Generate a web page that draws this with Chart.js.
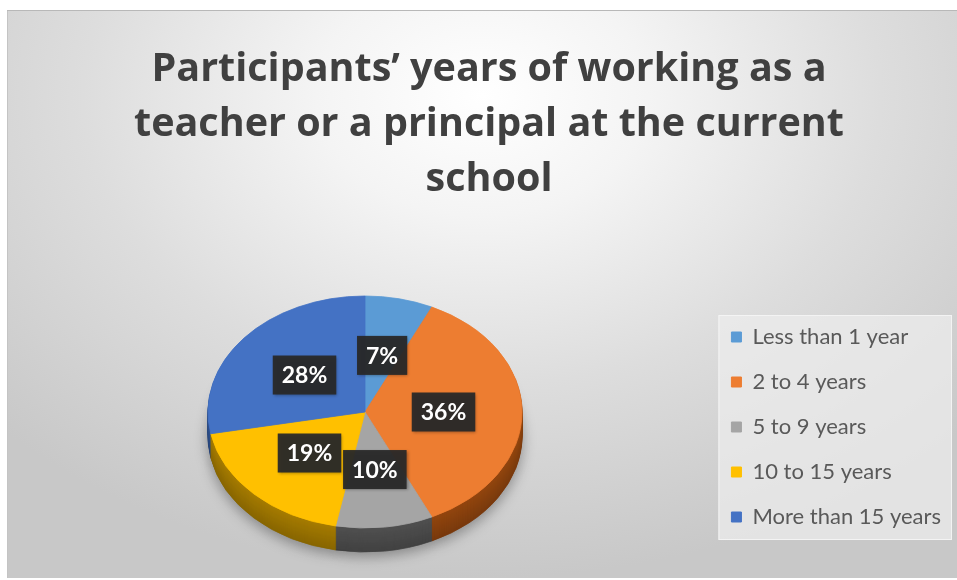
<!DOCTYPE html>
<html><head><meta charset="utf-8">
<script src="https://cdn.jsdelivr.net/npm/chart.js@4.4.1/dist/chart.umd.min.js"></script>
<style>
html,body{margin:0;padding:0;background:#fff;width:957px;height:580px;overflow:hidden}
#wrap{position:absolute;left:7px;top:10px;width:950px;height:568px;
 background:radial-gradient(ellipse 70% 85% at 50% 15%, #ffffff 0%, #f4f4f4 25%, #dddddd 60%, #c8c8c8 100%);
 box-shadow: inset 0 1px 0 #b8b8b8, inset 1px 0 0 #c4c4c4;}
canvas{display:block}
</style></head><body>
<div id="wrap"><canvas id="c" width="950" height="568"></canvas></div>
<script>
// ---- data ----
const categories = ['Less than 1 year', '2 to 4 years', '5 to 9 years', '10 to 15 years', 'More than 15 years'];
const values = [7, 36, 10, 19, 28];
const titleLines = ['Participants\u2019 years of working as a', 'teacher or a principal at the current', 'school'];

// ---- styles ----
const sliceColors = ['#5b9bd5', '#ed7d31', '#a5a5a5', '#ffc000', '#4472c4'];
const sideColors = ['#3f74a6', '#93460f', '#505050', '#a67c00', '#2f528f'];
const PIE = {cx: 358, cy: 402, rx: 157, ry: 116, depth: 24, labelR: 0.5};

function shade(hex, f) {
  const n = parseInt(hex.slice(1), 16);
  const m = 1 - 0.18 * f;
  const r = Math.round(((n >> 16) & 255) * m), g = Math.round(((n >> 8) & 255) * m), b = Math.round((n & 255) * m);
  return 'rgb(' + r + ',' + g + ',' + b + ')';
}
function pieTransform(ctx, arc, dy) {
  const s = PIE.rx / arc.outerRadius;
  const k = PIE.ry / PIE.rx;
  ctx.translate(PIE.cx, PIE.cy + dy);
  ctx.scale(s, s * k);
  ctx.translate(-arc.x, -arc.y);
}

const legendBox = {
  id: 'legendBox',
  beforeDraw(chart) {
    const lg = chart.legend; const hb = lg && lg.legendHitBoxes;
    if (!hb || !hb.length) return;
    const ctx = chart.ctx;
    const f = hb[0], l = hb[hb.length - 1];
    const x0 = f.left - 13, y0 = f.top + f.height / 2 - 22;
    const x1 = chart.width - 5, y1 = l.top + l.height / 2 + 23;
    ctx.save();
    ctx.fillStyle = 'rgba(236,236,236,0.75)';
    ctx.fillRect(x0, y0, x1 - x0, y1 - y0);
    ctx.strokeStyle = 'rgba(245,245,245,0.9)';
    ctx.lineWidth = 1;
    ctx.strokeRect(x0 + 0.5, y0 + 0.5, x1 - x0 - 1, y1 - y0 - 1);
    ctx.restore();
  }
};

const pie3d = {
  id: 'pie3d',
  beforeDatasetsDraw(chart) {
    const ctx = chart.ctx; const meta = chart.getDatasetMeta(0);
    const a0 = meta.data[0];
    for (let dy = PIE.depth; dy >= 1; dy--) {
      ctx.save();
      if (dy === PIE.depth) {
        ctx.shadowColor = 'rgba(0,0,0,0.35)'; ctx.shadowBlur = 14; ctx.shadowOffsetY = 4;
      }
      pieTransform(ctx, a0, dy);
      meta.data.forEach((arc, i) => {
        const orig = arc.options;
        const col = shade(sideColors[i], dy / PIE.depth);
        arc.options = Object.assign({}, orig, {backgroundColor: col, borderColor: col});
        arc.draw(ctx);
        arc.options = orig;
      });
      ctx.restore();
    }
    ctx.save();
    pieTransform(ctx, a0, 0);
  },
  afterDatasetsDraw(chart) {
    const ctx = chart.ctx; ctx.restore();
    const meta = chart.getDatasetMeta(0);
    const k = PIE.ry / PIE.rx;
    ctx.save();
    ctx.font = 'bold 23px Lato';
    ctx.textAlign = 'center'; ctx.textBaseline = 'middle';
    meta.data.forEach((arc, i) => {
      const mid = (arc.startAngle + arc.endAngle) / 2;
      const s = PIE.rx / arc.outerRadius;
      const X = PIE.cx + Math.cos(mid) * arc.outerRadius * PIE.labelR * s;
      const Y = PIE.cy + Math.sin(mid) * arc.outerRadius * PIE.labelR * s * k;
      const txt = values[i] + '%';
      const w = ctx.measureText(txt).width + 18, h = 39;
      ctx.shadowColor = 'rgba(0,0,0,0.35)'; ctx.shadowBlur = 3; ctx.shadowOffsetX = 1; ctx.shadowOffsetY = 1;
      ctx.fillStyle = 'rgba(40,40,40,0.94)';
      ctx.fillRect(X - w / 2, Y - h / 2, w, h);
      ctx.shadowColor = 'transparent';
      ctx.fillStyle = '#ffffff';
      ctx.fillText(txt, X, Y + 1);
    });
    ctx.restore();
  }
};

new Chart(document.getElementById('c'), {
  type: 'pie',
  data: {
    labels: categories,
    datasets: [{
      data: values,
      backgroundColor: sliceColors,
      borderColor: sliceColors,
      borderWidth: 1,
      clip: false
    }]
  },
  options: {
    responsive: false,
    animation: false,
    events: [],
    layout: {padding: {left: 20, right: 6, top: 0, bottom: 27}},
    plugins: {
      title: {
        display: true, text: titleLines, color: '#404040',
        font: {family: 'Open Sans', size: 39.5, weight: 'bold', lineHeight: '55px'},
        padding: {top: 32, bottom: 10}
      },
      legend: {
        position: 'right', align: 'end',
        labels: {boxWidth: 10, boxHeight: 10, padding: 23, color: '#595959', font: {family: 'Lato', size: 22}}
      },
      tooltip: {enabled: false}
    }
  },
  plugins: [legendBox, pie3d]
});
</script>
</body></html>
